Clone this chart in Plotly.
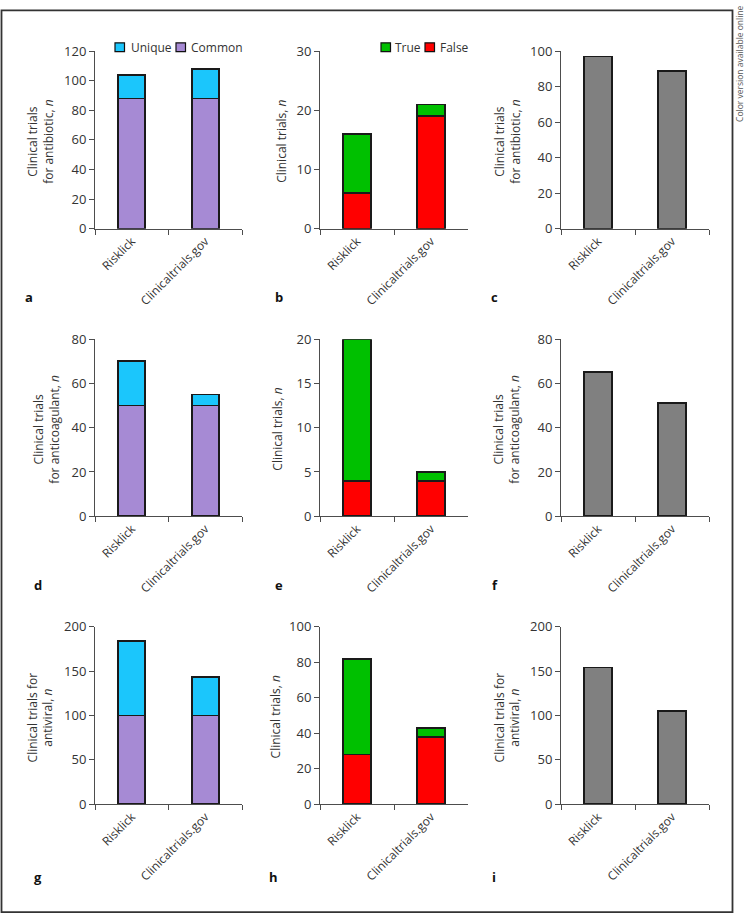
import plotly.graph_objects as go

# ---------------- data ----------------
categories = ["Risklick", "Clinicaltrials.gov"]

antibiotic_common = [88, 88]
antibiotic_unique = [16, 20]
anticoag_common = [50, 50]
anticoag_unique = [20, 5]
antiviral_common = [100, 100]
antiviral_unique = [84, 43]

antibiotic_false = [6, 19]
antibiotic_true = [10, 2]
anticoag_false = [4, 4]
anticoag_true = [16, 1]
antiviral_false = [28, 38]
antiviral_true = [54, 5]

antibiotic_total = [97, 89]
anticoag_total = [65, 51]
antiviral_total = [154, 105]

y_max = [120, 30, 100, 80, 20, 80, 200, 100, 200]
y_dtick = [20, 10, 20, 20, 5, 20, 50, 20, 50]

panel_letters = ["a", "b", "c", "d", "e", "f", "g", "h", "i"]
y_titles = [
    "Clinical trials<br>for antibiotic, <i>n</i>",
    "Clinical trials, <i>n</i>",
    "Clinical trials<br>for antibiotic, <i>n</i>",
    "Clinical trials<br>for anticoagulant, <i>n</i>",
    "Clinical trials, <i>n</i>",
    "Clinical trials<br>for anticoagulant, <i>n</i>",
    "Clinical trials for<br>antiviral, <i>n</i>",
    "Clinical trials, <i>n</i>",
    "Clinical trials for<br>antiviral, <i>n</i>",
]

# ---------------- style ----------------
W, H = 746, 923
FONT = "Open Sans"
TXT = "#333333"
AX = "#4d4d4d"
C_COMMON = "#A68AD4"
C_UNIQUE = "#1BC6FC"
C_TRUE = "#00C000"
C_FALSE = "#FF0000"
C_GRAY = "#808080"
OUTLINE = dict(color="#1a1a1a", width=1.8)
BAR_W = 0.37

col_px = [(95, 242), (320, 468), (561, 709)]
row_px = [(43, 224), (336.7, 517.3), (630, 811)]
title_x_px = [41, 282, 508, 47, 278, 507, 40, 275, 507]
letter_px = [(29, 294), (279, 294), (494, 294), (38, 587), (279, 587),
             (495, 587), (38, 885), (273, 885), (494, 885)]


def px(x):
    return x / W


def py(y):
    return 1 - y / H


fig = go.Figure()

panels = [
    [("Common", antibiotic_common, C_COMMON), ("Unique", antibiotic_unique, C_UNIQUE)],
    [("False", antibiotic_false, C_FALSE), ("True", antibiotic_true, C_TRUE)],
    [("Total", antibiotic_total, C_GRAY)],
    [("Common", anticoag_common, C_COMMON), ("Unique", anticoag_unique, C_UNIQUE)],
    [("False", anticoag_false, C_FALSE), ("True", anticoag_true, C_TRUE)],
    [("Total", anticoag_total, C_GRAY)],
    [("Common", antiviral_common, C_COMMON), ("Unique", antiviral_unique, C_UNIQUE)],
    [("False", antiviral_false, C_FALSE), ("True", antiviral_true, C_TRUE)],
    [("Total", antiviral_total, C_GRAY)],
]

layout = {}
annotations = []
shapes = []

for i, traces in enumerate(panels):
    r, c = divmod(i, 3)
    n = "" if i == 0 else str(i + 1)
    for name, vals, color in traces:
        fig.add_trace(go.Bar(
            x=categories, y=vals, name=name, width=BAR_W,
            marker=dict(color=color, line=OUTLINE),
            xaxis="x" + n, yaxis="y" + n, showlegend=False,
        ))
    x0, x1 = col_px[c]
    y0, y1 = row_px[r]
    layout["xaxis" + n] = dict(
        domain=[px(x0), px(x1)], anchor="y" + n, type="category",
        range=[-0.5, 1.5], tickson="boundaries", ticks="outside", ticklen=5,
        tickcolor=AX, tickwidth=1, showline=True, linecolor=AX, linewidth=1,
        tickangle=-45, tickfont=dict(family=FONT, size=12, color=TXT),
        showgrid=False, zeroline=False, fixedrange=True,
    )
    layout["yaxis" + n] = dict(
        domain=[py(y1), py(y0)], anchor="x" + n, range=[0, y_max[i]],
        tickmode="linear", tick0=0, dtick=y_dtick[i], ticks="outside",
        ticklen=5, tickcolor=AX, tickwidth=1, showline=True, linecolor=AX,
        linewidth=1, tickfont=dict(family=FONT, size=13, color=TXT),
        showgrid=False, zeroline=False, fixedrange=True,
    )
    annotations.append(dict(
        text=y_titles[i], textangle=-90, xref="paper", yref="paper",
        x=px(title_x_px[i]), y=py((y0 + y1) / 2 + 2), xanchor="center",
        yanchor="middle", showarrow=False,
        font=dict(family=FONT, size=12, color=TXT),
    ))
    lx, ly = letter_px[i]
    annotations.append(dict(
        text="<b>%s</b>" % panel_letters[i], xref="paper", yref="paper",
        x=px(lx), y=py(ly), xanchor="center", yanchor="middle",
        showarrow=False, font=dict(family=FONT, size=13, color="#111111"),
    ))

# legends (panels a and b): label, colour, swatch left px, text left px
legend_items = [
    ("Unique", C_UNIQUE, 115, 129), ("Common", C_COMMON, 176, 189),
    ("True", C_TRUE, 381, 393), ("False", C_FALSE, 425, 438),
]
for label, color, sx, tx in legend_items:
    shapes.append(dict(
        type="rect", xref="paper", yref="paper",
        x0=px(sx), x1=px(sx + 9.5), y0=py(43.5), y1=py(34.5),
        fillcolor=color, line=dict(color="#111111", width=1.2),
    ))
    annotations.append(dict(
        text=label, xref="paper", yref="paper", x=px(tx), y=py(39),
        xanchor="left", yanchor="middle", showarrow=False,
        font=dict(family=FONT, size=12, color=TXT),
    ))

# outer frame
shapes.append(dict(
    type="rect", xref="paper", yref="paper", x0=px(1.5), x1=px(732.5),
    y0=py(921), y1=py(1.5), line=dict(color="#333333", width=1.8),
    fillcolor="rgba(0,0,0,0)",
))
annotations.append(dict(
    text="Color version available online", textangle=-90, xref="paper",
    yref="paper", x=px(740), y=py(56), xanchor="center", yanchor="middle",
    showarrow=False, font=dict(family=FONT, size=8.5, color="#555555"),
))

fig.update_layout(
    width=W, height=H, margin=dict(l=0, r=0, t=0, b=0),
    paper_bgcolor="white", plot_bgcolor="white", barmode="stack",
    showlegend=False, annotations=annotations, shapes=shapes,
    font=dict(family=FONT, size=12, color=TXT), **layout,
)

fig.write_html(
    "out.html",
    config={"displayModeBar": False},
    post_script="document.body.style.margin='0';document.body.style.overflow='hidden';",
)
